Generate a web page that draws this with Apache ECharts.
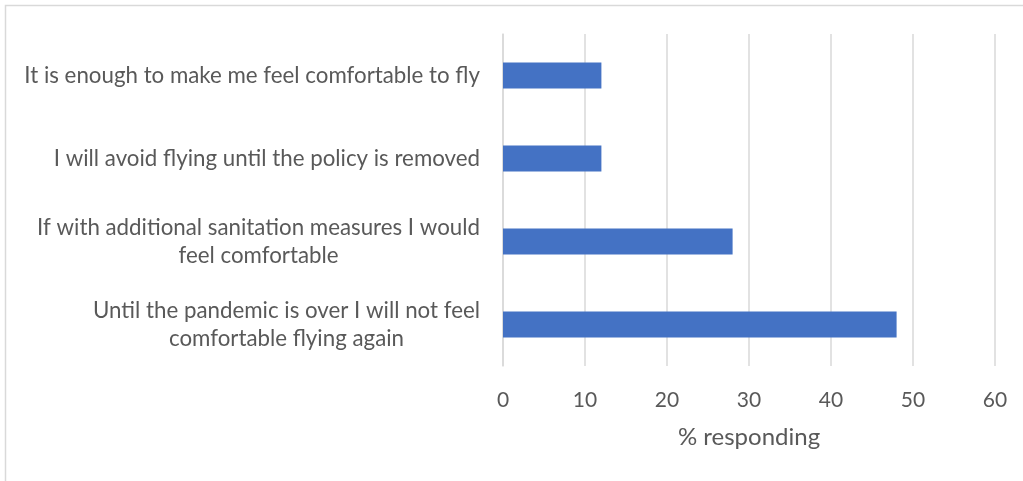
<!DOCTYPE html>
<html>
<head>
<meta charset="utf-8">
<script src="https://cdn.jsdelivr.net/npm/echarts@6/dist/echarts.min.js"></script>
<style>
html,body{margin:0;padding:0;background:#fff;}
#chart{width:1023px;height:481px;}
</style>
</head>
<body>
<div id="chart"></div>
<script>
const categories = [
  "Until the pandemic is over I will not feel\ncomfortable flying again",
  "If with additional sanitation measures I would\nfeel comfortable",
  "I will avoid flying until the policy is removed",
  "It is enough to make me feel comfortable to fly"
];
const values = [48, 28, 12, 12];
const xTicks = [0, 10, 20, 30, 40, 50, 60];
const xAxisName = "% responding";

const FONT = "Lato";
const chart = echarts.init(document.getElementById('chart'), null, {renderer: 'canvas'});
chart.setOption({
  animation: false,
  backgroundColor: '#ffffff',
  graphic: [{
    type: 'rect',
    shape: {x: 5.5, y: 5.5, width: 1100, height: 1000},
    style: {fill: 'none', stroke: '#d9d9d9', lineWidth: 1.5},
    silent: true
  }],
  grid: {left: 503, right: 28, top: 34, bottom: 115, containLabel: false},
  xAxis: {
    type: 'value',
    min: xTicks[0],
    max: xTicks[xTicks.length - 1],
    interval: xTicks[1] - xTicks[0],
    name: xAxisName,
    nameLocation: 'middle',
    nameGap: 59,
    nameTextStyle: {color: '#595959', fontSize: 24, fontFamily: FONT},
    axisLine: {show: false},
    axisTick: {show: false},
    axisLabel: {color: '#595959', fontSize: 21, fontFamily: FONT, margin: 24},
    splitLine: {lineStyle: {color: '#d9d9d9', width: 1.5}}
  },
  yAxis: {
    type: 'category',
    data: categories,
    axisLine: {show: true, lineStyle: {color: '#d9d9d9', width: 1.5}},
    axisTick: {show: false},
    axisLabel: {
      margin: 23,
      align: 'right',
      lineHeight: 28,
      formatter: v => '{c|' + v + '}',
      rich: {c: {align: 'center', color: '#595959', fontSize: 22.3, fontFamily: FONT, lineHeight: 28}}
    }
  },
  series: [{
    type: 'bar',
    data: values,
    barWidth: 26,
    itemStyle: {color: '#4472C4'}
  }]
});
</script>
</body>
</html>
